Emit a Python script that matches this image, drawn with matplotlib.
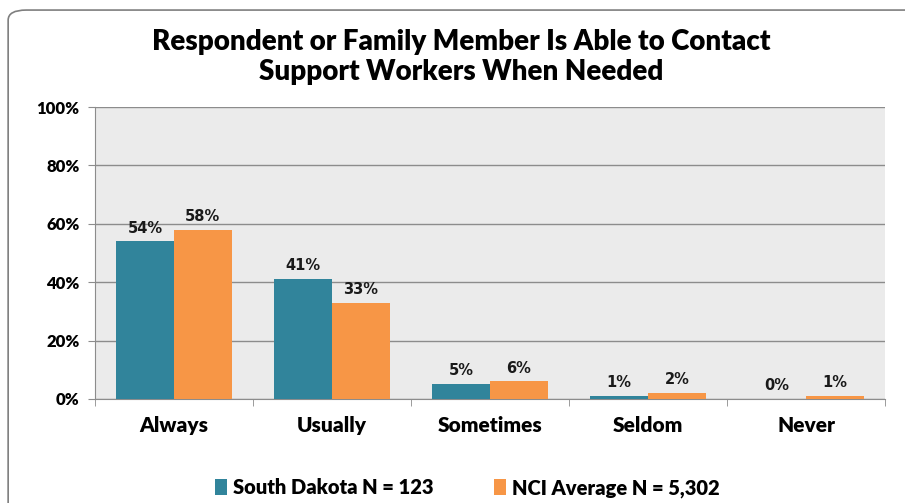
import numpy as np
import matplotlib.pyplot as plt
from matplotlib.patches import FancyBboxPatch

categories = ['Always', 'Usually', 'Sometimes', 'Seldom', 'Never']
south_dakota = [54, 41, 5, 1, 0]
nci_average = [58, 33, 6, 2, 1]
series_names = ['South Dakota N = 123', 'NCI Average N = 5,302']
title = 'Respondent or Family Member Is Able to Contact\nSupport Workers When Needed'

teal = '#31849B'
orange = '#F79646'
label_font = 'Lato'

fig = plt.figure(figsize=(9.05, 5.03), dpi=100)
ax = fig.add_axes([0.105, 0.207, 0.873, 0.58])

# rounded chart border
border = FancyBboxPatch((0.009, -0.05), 1.05, 1.03, boxstyle='round,pad=0,rounding_size=0.02',
                        transform=fig.transFigure, facecolor='none', edgecolor='#7f7f7f',
                        linewidth=1.2, zorder=0)
fig.patches.append(border)

x = np.arange(len(categories))
w = 0.365
b1 = ax.bar(x - w / 2, south_dakota, w, color=teal, label=series_names[0], zorder=3)
b2 = ax.bar(x + w / 2, nci_average, w, color=orange, label=series_names[1], zorder=3)

for bars, vals in ((b1, south_dakota), (b2, nci_average)):
    for bar, v in zip(bars, vals):
        ax.text(bar.get_x() + bar.get_width() / 2, v + 2.0, f'{v}%', ha='center', va='bottom',
                fontsize=10.5, fontweight='bold', color='#1a1a1a', family='DejaVu Sans')

ax.set_facecolor('#EBEBEB')
ax.set_xlim(-0.5, len(categories) - 0.5)
ax.set_ylim(0, 100)
ax.set_yticks(np.arange(0, 101, 20))
ax.set_yticklabels([f'{t}%' for t in range(0, 101, 20)], fontsize=12, fontweight='heavy',
                   family=label_font)
ax.yaxis.grid(True, color='#8c8c8c', linewidth=1.0, zorder=0)
ax.set_axisbelow(True)

ax.set_xticks(x)
ax.set_xticklabels(categories, fontsize=15, fontweight='heavy', family=label_font)
ax.tick_params(axis='x', length=0, pad=12)
ax.set_xticks(np.arange(-0.5, len(categories)), minor=True)
ax.tick_params(axis='x', which='minor', length=5, color='#8c8c8c')
ax.tick_params(axis='y', length=5, color='#8c8c8c', pad=6)

for s in ('top', 'right'):
    ax.spines[s].set_visible(False)
for s in ('left', 'bottom'):
    ax.spines[s].set_color('#8c8c8c')

fig.text(0.51, 0.887, title, ha='center', va='center', fontsize=20, fontweight='heavy',
         family=label_font, linespacing=1.2)

fig.legend(handles=[b1, b2], loc='center', bbox_to_anchor=(0.516, 0.03), ncol=2, frameon=False,
           prop={'family': label_font, 'weight': 'heavy', 'size': 14.5},
           handlelength=0.6, handleheight=0.8, handletextpad=0.3, columnspacing=3.0)

fig.savefig('out.png', dpi=100, facecolor='white')
